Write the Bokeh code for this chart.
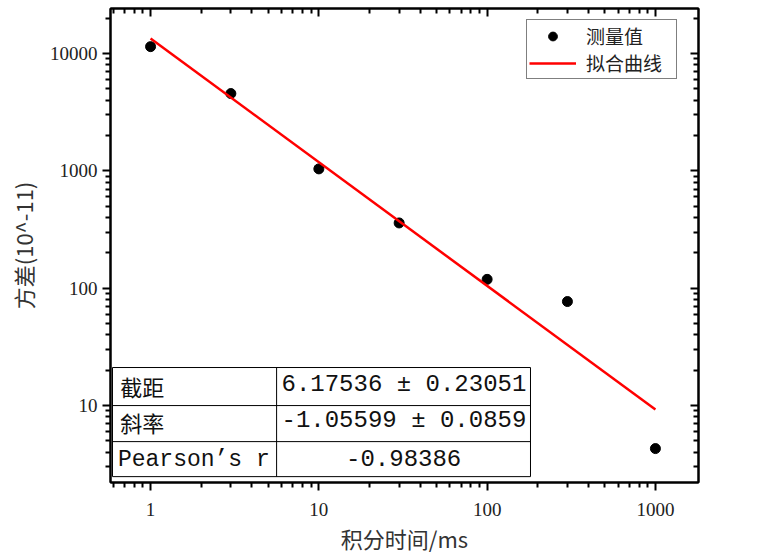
from bokeh.plotting import figure
from bokeh.models import Range1d, LogAxis, Legend, LegendItem, Label, FixedTicker, PrintfTickFormatter
from bokeh.embed import file_html
from bokeh.resources import INLINE

# ---- data ----
time_ms = [1, 3, 10, 30, 100, 300, 1000]
variance = [11450, 4560, 1040, 360, 119, 77, 4.3]
fit_x = [1, 1000]
fit_y = [13430, 9.25]
x_ticks = [1, 10, 100, 1000]
y_ticks = [10, 100, 1000, 10000]
table_rows = ["截距", "斜率", "Pearson’s r"]
table_vals = ["6.17536 ± 0.23051", "-1.05599 ± 0.0859", "-0.98386"]

SERIF = "Liberation Serif"
CJK = "Noto Sans CJK SC"
MONO = "Liberation Mono"

p = figure(width=749, height=558, x_axis_type="log", y_axis_type="log",
           x_range=Range1d(0.578, 1803), y_range=Range1d(2.21, 24200),
           output_backend="svg", toolbar_location=None,
           min_border_left=110, min_border_right=51, min_border_top=8, min_border_bottom=76)
p.grid.visible = False
p.background_fill_color = "white"
p.border_fill_color = "white"
p.outline_line_color = "black"
p.outline_line_width = 2

def style_axis(ax, inward=False, labels=True):
    ax.axis_line_width = 2
    ax.axis_line_color = "black"
    ax.major_tick_line_width = 2
    ax.minor_tick_line_width = 2
    if inward:
        ax.major_tick_in, ax.major_tick_out = 8, 0
        ax.minor_tick_in, ax.minor_tick_out = 5, 0
    else:
        ax.major_tick_in, ax.major_tick_out = 0, 8
        ax.minor_tick_in, ax.minor_tick_out = 0, 5
    ax.major_label_text_font = SERIF
    if labels:
        ax.major_label_text_font_size = "19px"
        ax.major_label_text_color = "#222222"
        ax.formatter = PrintfTickFormatter(format="%d")
    else:
        ax.major_label_text_font_size = "1px"
        ax.major_label_text_alpha = 0
        ax.major_label_standoff = 0

minor_x = [m * d for d in [0.1, 1, 10, 100, 1000] for m in range(2, 10)]
minor_y = [m * d for d in [1, 10, 100, 1000, 10000] for m in range(2, 10)]
p.xaxis.ticker = FixedTicker(ticks=x_ticks, minor_ticks=minor_x)
p.yaxis.ticker = FixedTicker(ticks=y_ticks, minor_ticks=minor_y)
style_axis(p.xaxis[0])
style_axis(p.yaxis[0])
p.xaxis.major_label_standoff = 12
p.yaxis.major_label_standoff = 5
p.xaxis.axis_label = "积分时间/ms"
p.yaxis.axis_label = "方差(10^-11)"
for ax in (p.xaxis[0], p.yaxis[0]):
    ax.axis_label_text_font = CJK
    ax.axis_label_text_font_size = "22px"
    ax.axis_label_text_font_style = "normal"
    ax.axis_label_text_color = "#333333"
p.xaxis.axis_label_standoff = 3
p.yaxis.axis_label_standoff = 8

top = LogAxis(ticker=FixedTicker(ticks=x_ticks, minor_ticks=minor_x))
style_axis(top, inward=True, labels=False)
p.add_layout(top, "above")
right = LogAxis(ticker=FixedTicker(ticks=y_ticks, minor_ticks=minor_y))
style_axis(right, inward=True, labels=False)
p.add_layout(right, "right")

pts = p.scatter(time_ms, variance, size=10, color="black")
fit = p.line(fit_x, fit_y, line_color="red", line_width=2.5)

legend = Legend(items=[LegendItem(label="测量值", renderers=[pts]),
                       LegendItem(label="拟合曲线", renderers=[fit])],
                location=(416, 403))
legend.label_text_font = CJK
legend.label_text_font_size = "19px"
legend.label_text_color = "#222222"
legend.border_line_color = "black"
legend.border_line_width = 1
legend.glyph_width = 47
legend.glyph_height = 22
legend.label_height = 22
legend.label_width = 88
legend.label_standoff = 10
legend.spacing = 0
legend.padding = 2
legend.margin = 0
legend.background_fill_alpha = 1
p.add_layout(legend)

# ---- fit-results table (annotation, data coordinates) ----
tx = [0.594, 5.61, 181]
ty = [21.1, 10, 4.93, 2.48]
for yy in ty:
    p.line([tx[0], tx[2]], [yy, yy], line_color="black", line_width=1)
for xx in tx:
    p.line([xx, xx], [ty[0], ty[-1]], line_color="black", line_width=1)

row_y = [14.8, 7.31, 3.47]
val_y = [15.2, 7.4, 3.6]
for i, (name, v) in enumerate(zip(table_rows, table_vals)):
    font = CJK if i < 2 else MONO
    p.add_layout(Label(x=0.66 if i < 2 else 0.64, y=row_y[i], text=name,
                       text_font=font, text_font_size="22px" if i < 2 else "23px",
                       text_baseline="middle", text_align="left", text_color="#111111"))
    if i < 2:
        p.add_layout(Label(x=6.0, y=val_y[i], text=v, text_font=MONO, text_font_size="24px",
                           text_baseline="middle", text_align="left", text_color="#111111"))
    else:
        p.add_layout(Label(x=31.9, y=val_y[i], text=v, text_font=MONO, text_font_size="24px",
                           text_baseline="middle", text_align="center", text_color="#111111"))

open("out.html", "w").write(file_html(p, INLINE))
